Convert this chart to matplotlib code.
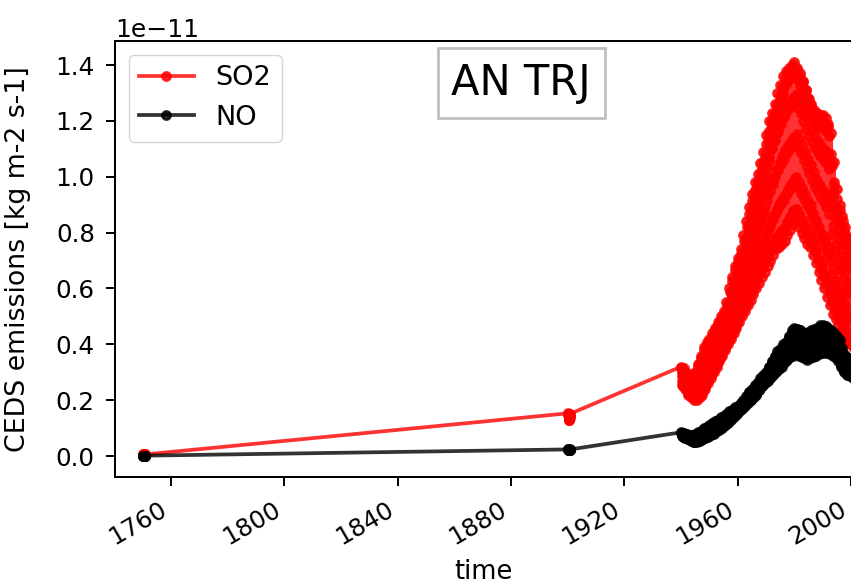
import numpy as np
import matplotlib
matplotlib.use("Agg")
import matplotlib.pyplot as plt

# Years with data; each year holds 12 monthly values
years = np.array([1750, 1900] + list(range(1940, 2001)))

# Annual summer minimum / winter maximum of the monthly emissions (units of 1e-11)
so2_low = [0.004, 0.128,
           0.25, 0.24, 0.22, 0.21, 0.20,
           0.20, 0.21, 0.22, 0.24, 0.26,
           0.28, 0.30, 0.32, 0.34, 0.36,
           0.38, 0.40, 0.42, 0.44, 0.46,
           0.48, 0.50, 0.52, 0.54, 0.56,
           0.58, 0.60, 0.62, 0.64, 0.66,
           0.68, 0.70, 0.72, 0.74, 0.75,
           0.76, 0.77, 0.79, 0.81, 0.83,
           0.84, 0.82, 0.80, 0.78, 0.76,
           0.75, 0.72, 0.69, 0.66, 0.63,
           0.60, 0.57, 0.54, 0.51, 0.49,
           0.47, 0.45, 0.43, 0.41, 0.40,
           0.39]
so2_high = [0.006, 0.153,
            0.32, 0.30, 0.29, 0.28, 0.28,
            0.30, 0.33, 0.36, 0.39, 0.41,
            0.42, 0.44, 0.46, 0.48, 0.50,
            0.52, 0.55, 0.60, 0.64, 0.68,
            0.71, 0.74, 0.79, 0.84, 0.89,
            0.94, 0.98, 1.01, 1.05, 1.09,
            1.15, 1.20, 1.23, 1.26, 1.30,
            1.33, 1.36, 1.38, 1.39, 1.40,
            1.41, 1.39, 1.37, 1.34, 1.31,
            1.28, 1.26, 1.24, 1.23, 1.22,
            1.22, 1.21, 1.19, 1.08, 0.98,
            0.92, 0.88, 0.84, 0.80, 0.78,
            0.76]
no_low = [0.001, 0.020,
          0.070, 0.065, 0.060, 0.055, 0.050,
          0.050, 0.055, 0.060, 0.065, 0.070,
          0.075, 0.080, 0.090, 0.095, 0.100,
          0.110, 0.120, 0.130, 0.140, 0.150,
          0.160, 0.170, 0.180, 0.190, 0.200,
          0.210, 0.220, 0.235, 0.250, 0.260,
          0.270, 0.280, 0.290, 0.300, 0.310,
          0.320, 0.335, 0.345, 0.355, 0.360,
          0.365, 0.360, 0.355, 0.350, 0.345,
          0.350, 0.355, 0.360, 0.365, 0.370,
          0.370, 0.370, 0.365, 0.360, 0.350,
          0.340, 0.320, 0.300, 0.290, 0.285,
          0.280]
no_high = [0.0015, 0.024,
           0.085, 0.080, 0.075, 0.075, 0.075,
           0.080, 0.085, 0.090, 0.100, 0.105,
           0.110, 0.120, 0.125, 0.130, 0.140,
           0.145, 0.150, 0.160, 0.165, 0.175,
           0.180, 0.190, 0.200, 0.215, 0.230,
           0.240, 0.255, 0.265, 0.280, 0.290,
           0.300, 0.320, 0.340, 0.360, 0.375,
           0.385, 0.400, 0.410, 0.430, 0.450,
           0.460, 0.455, 0.450, 0.440, 0.440,
           0.445, 0.450, 0.455, 0.460, 0.470,
           0.470, 0.465, 0.455, 0.445, 0.435,
           0.420, 0.390, 0.365, 0.350, 0.350,
           0.350]

# Position of each month between the summer low (0) and winter high (1)
season = np.array([1.0, 0.93, 0.75, 0.5, 0.25, 0.08, 0.0, 0.08, 0.28, 0.55, 0.8, 0.95])

series_labels = ["SO2", "NO"]
series_colors = ["red", "black"]
xticks = [1760, 1800, 1840, 1880, 1920, 1960, 2000]
yticks = [0.0, 0.2, 0.4, 0.6, 0.8, 1.0, 1.2, 1.4]
scale = 1e-11


def monthly(low, high):
    low = np.asarray(low)
    high = np.asarray(high)
    t = (years[:, None] + np.arange(12)[None, :] / 12.0).ravel()
    v = (low[:, None] + season[None, :] * (high - low)[:, None]).ravel()
    return t, v * scale


plt.rcParams["font.family"] = "DejaVu Sans"
W, H = 851, 588
fig = plt.figure(figsize=(W / 100, H / 100), dpi=100)
ax = fig.add_axes([115 / W, 111 / H, 737 / W, 436 / H])

for (lo, hi), lab, col in zip([(so2_low, so2_high), (no_low, no_high)],
                              series_labels, series_colors):
    t, v = monthly(lo, hi)
    ax.plot(t, v, "-o", color=col, alpha=0.8, ms=6.0, mew=1.8, lw=2.7, label=lab)

ax.set_xlim(1740.2, 2000.3)
ax.set_ylim(-0.075 * scale, 1.486 * scale)
ax.set_xticks(xticks)
ax.set_yticks(np.array(yticks) * scale)

for s in ax.spines.values():
    s.set_linewidth(1.44)
ax.tick_params(length=6.5, width=1.44, labelsize=17.7, pad=8)
for lab in ax.get_xticklabels():
    lab.set_rotation(30)
    lab.set_ha("right")
ax.yaxis.get_offset_text().set_fontsize(18)

ax.set_xlabel("time", fontsize=18.5, labelpad=7)
ax.set_ylabel("CEDS emissions [kg m-2 s-1]", fontsize=19.3)
ax.yaxis.set_label_coords(-0.1140, 0.5)

ax.legend(loc="upper left", fontsize=19.5)

ax.text(0.551, 0.904, "AN TRJ", transform=ax.transAxes, ha="center", va="center",
        fontsize=30,
        bbox=dict(boxstyle="square,pad=0.33", fc="white", ec="#bfbfbf", lw=2))

fig.savefig("out.png", dpi=100)
